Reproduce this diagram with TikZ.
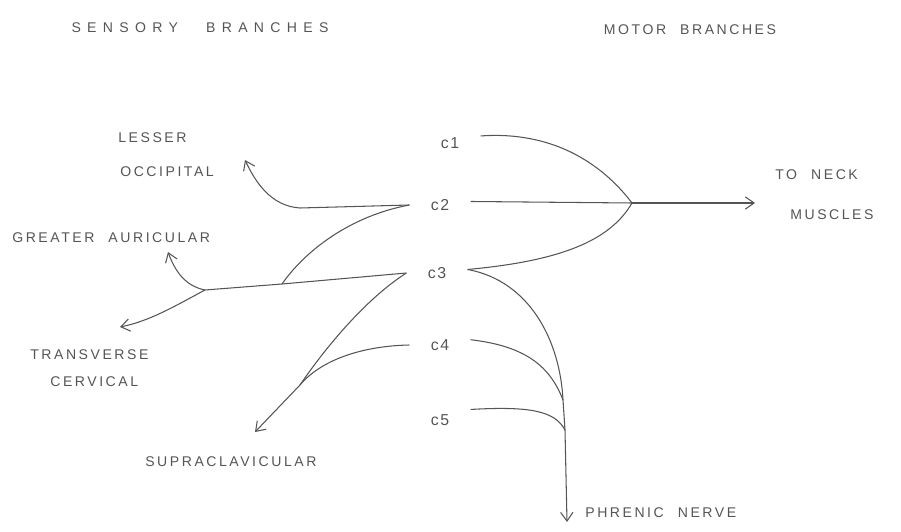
\documentclass[tikz,border=0pt]{standalone}
\usepackage{fontspec}
\setsansfont{Liberation Sans}
\usepackage{tikz}
\usetikzlibrary{arrows.meta,positioning}
\definecolor{ink}{RGB}{85,85,85}

\begin{document}
\begin{tikzpicture}[
        nerve/.style={ink,line width=0.6pt},
        tip/.style={nerve,-{Straight Barb[length=5pt,width=7pt]}},
        root/.style={font=\sffamily\small\addfontfeatures{LetterSpace=10},text=ink,inner xsep=12pt},
        lbl/.style={font=\sffamily\footnotesize\addfontfeatures{LetterSpace=18},text=ink,anchor=west,inner sep=0pt}
    ]
        \useasboundingbox (0,0) rectangle (18.02,10.62);
        % Roots
        \node[root] (c1) at (9.0,7.76) {c1};
        \node[root] (c2) at (8.8,6.52) {c2};
        \node[root] (c3) at (8.74,5.16) {c3};
        \node[root] (c4) at (8.8,3.72) {c4};
        \node[root] (c5) at (8.8,2.22) {c5};
        % Headings
        \node[lbl,anchor=center,font=\sffamily\footnotesize\addfontfeatures{LetterSpace=45}] (sens) at (4.0,10.06) {SENSORY\qquad BRANCHES};
        \node[lbl,anchor=center] (mot) at (13.8,10.02) {MOTOR\quad BRANCHES};
        % Branch labels
        \node[lbl] (less) at (2.36,7.86) {LESSER};
        \node[lbl] (occ) at (2.4,7.18) {OCCIPITAL};
        \node[lbl] (great) at (0.24,5.86) {GREATER\quad AURICULAR};
        \node[lbl] (trans) at (0.6,3.52) {TRANSVERSE};
        \node[lbl] (cerv) at (1.0,2.98) {CERVICAL};
        \node[lbl] (supra) at (2.9,1.38) {SUPRACLAVICULAR};
        \node[lbl] (neck) at (15.5,7.12) {TO\quad NECK};
        \node[lbl] (musc) at (15.8,6.32) {MUSCLES};
        \node[lbl] (phren) at (11.7,0.36) {PHRENIC\quad NERVE};
        % Junctions and ends
        \coordinate (mj) at (12.64,6.56);
        \coordinate (mtip) at (15.1,6.56);
        \coordinate (lobend) at (6.0,6.46);
        \coordinate (lotip) at (4.9,7.42);
        \coordinate (j3) at (5.64,4.94);
        \coordinate (gaj) at (4.1,4.82);
        \coordinate (gatip) at (3.36,5.58);
        \coordinate (tctip) at (2.4,4.08);
        \coordinate (scj) at (6.0,2.92);
        \coordinate (sctip) at (5.1,1.98);
        \coordinate (ph1) at (11.26,2.62);
        \coordinate (ph2) at (11.3,2.02);
        \coordinate (phtip) at (11.34,0.18);
        % Motor branches
        \draw[nerve] ([yshift=4pt]c1.east) .. controls (11.0,8.0) and (12.0,7.4) .. (mj);
        \draw[nerve] ([yshift=2pt]c2.east) -- (mj);
        \draw[nerve] ([yshift=2pt]c3.east) .. controls (11.2,5.4) and (12.2,5.8) .. (mj);
        \draw[tip] (mj) -- (mtip);
        % Phrenic nerve
        \draw[nerve] ([yshift=2pt]c3.east) .. controls (10.6,5.0) and (11.2,3.8) .. (ph1);
        \draw[nerve] ([yshift=3pt]c4.east) .. controls (10.5,3.7) and (11.0,3.3) .. (ph1);
        \draw[nerve] ([yshift=6pt]c5.east) .. controls (10.6,2.5) and (11.1,2.4) .. (ph2);
        \draw[tip] (ph1) -- (ph2) -- (phtip);
        % Sensory branches
        \draw[tip] (c2.west) -- (lobend) .. controls (5.4,6.5) and (5.1,7.0) .. (lotip);
        \draw[nerve] (c2.west) .. controls (7.0,6.3) and (6.1,5.6) .. (j3);
        \draw[nerve] (c3.west) -- (j3) -- (gaj);
        \draw[tip] (gaj) .. controls (3.7,4.9) and (3.5,5.2) .. (gatip);
        \draw[tip] (gaj) .. controls (3.5,4.5) and (3.0,4.2) .. (tctip);
        \draw[nerve] (c3.west) .. controls (7.4,4.7) and (6.6,3.8) .. (scj);
        \draw[nerve] (c4.west) .. controls (7.2,3.7) and (6.4,3.4) .. (scj);
        \draw[tip] (scj) -- (sctip);
\end{tikzpicture}
\end{document}
